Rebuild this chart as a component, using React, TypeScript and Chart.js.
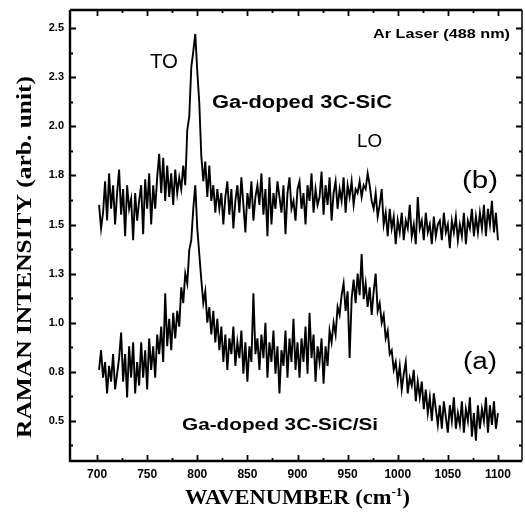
import React, { useEffect, useRef } from "react";
import { Chart, registerables } from "chart.js";

Chart.register(...registerables);

// Raman shift sampling grid (cm-1)
const wavenumbers: number[] = Array.from({ length: 200 }, (_, i) => 702 + 2 * i);

// (b) Ga-doped 3C-SiC
const seriesB: number[] = [
  1.60, 1.48, 1.56, 1.72, 1.52, 1.76, 1.58, 1.70, 1.50, 1.66,
  1.78, 1.55, 1.68, 1.44, 1.70, 1.58, 1.63, 1.42, 1.66, 1.52,
  1.62, 1.70, 1.45, 1.73, 1.58, 1.76, 1.50, 1.70, 1.58, 1.74,
  1.86, 1.66, 1.84, 1.62, 1.80, 1.64, 1.76, 1.60, 1.78, 1.66,
  1.74, 1.68, 1.80, 1.70, 1.98, 2.05, 2.30, 2.38, 2.47, 2.28,
  2.12, 1.85, 1.72, 1.82, 1.64, 1.80, 1.62, 1.70, 1.56, 1.68,
  1.58, 1.66, 1.50, 1.64, 1.72, 1.55, 1.68, 1.48, 1.62, 1.70,
  1.56, 1.74, 1.60, 1.46, 1.66, 1.58, 1.72, 1.52, 1.64, 1.70,
  1.60, 1.76, 1.55, 1.68, 1.44, 1.74, 1.50, 1.66, 1.58, 1.72,
  1.64, 1.56, 1.70, 1.45, 1.66, 1.74, 1.58, 1.62, 1.52, 1.68,
  1.72, 1.58, 1.66, 1.50, 1.70, 1.62, 1.76, 1.56, 1.68, 1.60,
  1.64, 1.77, 1.55, 1.70, 1.60, 1.74, 1.52, 1.66, 1.72, 1.58,
  1.68, 1.62, 1.74, 1.56, 1.70, 1.64, 1.72, 1.60, 1.68, 1.66,
  1.72, 1.64, 1.70, 1.68, 1.76, 1.70, 1.62, 1.58, 1.66, 1.54,
  1.60, 1.68, 1.50, 1.56, 1.44, 1.58, 1.48, 1.54, 1.40, 1.52,
  1.46, 1.56, 1.42, 1.52, 1.48, 1.60, 1.44, 1.50, 1.40, 1.64,
  1.48, 1.52, 1.42, 1.56, 1.46, 1.50, 1.40, 1.54, 1.44, 1.50,
  1.52, 1.42, 1.56, 1.46, 1.50, 1.38, 1.52, 1.46, 1.54, 1.42,
  1.50, 1.44, 1.56, 1.40, 1.52, 1.48, 1.58, 1.44, 1.54, 1.46,
  1.56, 1.48, 1.60, 1.44, 1.58, 1.50, 1.62, 1.46, 1.56, 1.42,
];

// (a) Ga-doped 3C-SiC/Si
const seriesA: number[] = [
  0.76, 0.86, 0.72, 0.80, 0.64, 0.78, 0.70, 0.84, 0.66, 0.74,
  0.82, 0.95, 0.70, 0.84, 0.62, 0.88, 0.72, 0.90, 0.64, 0.80,
  0.68, 0.90, 0.72, 0.86, 0.66, 0.92, 0.76, 0.88, 0.72, 0.94,
  0.84, 0.98, 0.80, 1.15, 0.88, 1.02, 0.86, 1.05, 0.92, 1.06,
  0.98, 1.18, 1.10, 1.25, 1.20, 1.37, 1.42, 1.58, 1.70, 1.48,
  1.35, 1.22, 1.10, 1.16, 1.00, 1.08, 0.94, 1.06, 0.90, 1.02,
  0.86, 0.98, 0.80, 0.94, 0.76, 0.92, 0.84, 0.98, 0.78, 0.90,
  0.82, 0.96, 0.74, 0.90, 0.70, 0.88, 0.80, 1.15, 0.84, 0.92,
  0.76, 0.94, 0.82, 1.00, 0.72, 0.90, 0.80, 0.96, 0.74, 0.88,
  0.64, 0.86, 0.78, 0.96, 0.72, 0.92, 0.80, 1.02, 0.76, 0.90,
  0.72, 0.92, 0.80, 0.98, 0.74, 1.05, 0.82, 0.94, 0.70, 0.88,
  0.80, 0.92, 0.69, 0.88, 0.78, 0.96, 0.90, 1.00, 0.94, 1.08,
  1.04, 1.14, 1.20, 1.06, 1.16, 0.82, 1.12, 1.22, 1.10, 1.25,
  1.14, 1.35, 1.12, 1.20, 1.08, 1.18, 1.04, 1.16, 1.25, 1.06,
  1.10, 1.00, 1.04, 0.92, 0.96, 0.84, 0.86, 0.76, 0.80, 0.70,
  0.78, 0.66, 0.74, 0.80, 0.64, 0.72, 0.68, 0.76, 0.60, 0.70,
  0.62, 0.70, 0.56, 0.66, 0.54, 0.62, 0.50, 0.64, 0.56, 0.48,
  0.58, 0.46, 0.60, 0.52, 0.44, 0.58, 0.50, 0.62, 0.46, 0.54,
  0.48, 0.60, 0.44, 0.56, 0.50, 0.62, 0.42, 0.54, 0.40, 0.58,
  0.46, 0.56, 0.50, 0.62, 0.44, 0.58, 0.48, 0.60, 0.46, 0.54,
];

const xTickValues: number[] = [700, 750, 800, 850, 900, 950, 1000, 1050, 1100];
const yTickValues: number[] = [0.5, 0.75, 1.0, 1.25, 1.5, 1.75, 2.0, 2.25, 2.5];
const yTickLabels: string[] = ["0.5", "0.8", "1.0", "1.3", "1.5", "1.8", "2.0", "2.3", "2.5"];

const SANS = "'Liberation Sans', Arial, Helvetica, sans-serif";
const SERIF = "'Liberation Serif', 'Times New Roman', Times, serif";

function fitText(
  ctx: CanvasRenderingContext2D,
  text: string,
  left: number,
  baseline: number,
  font: string,
  width: number
) {
  ctx.font = font;
  const w = ctx.measureText(text).width;
  ctx.save();
  ctx.translate(left, baseline);
  ctx.scale(width / w, 1);
  ctx.textAlign = "left";
  ctx.textBaseline = "alphabetic";
  ctx.fillText(text, 0, 0);
  ctx.restore();
}

const decorPlugin = {
  id: "decor",
  afterDatasetsDraw(chart: any) {
    const ctx: CanvasRenderingContext2D = chart.ctx;
    const { left, right, top, bottom } = chart.chartArea;
    const xs = chart.scales.x;
    const ys = chart.scales.y;
    ctx.save();
    ctx.strokeStyle = "#000";
    ctx.fillStyle = "#000";

    // frame
    ctx.lineWidth = 2.4;
    ctx.beginPath();
    ctx.moveTo(left, top);
    ctx.lineTo(left, bottom);
    ctx.lineTo(right, bottom);
    ctx.moveTo(left, top);
    ctx.lineTo(right, top);
    ctx.stroke();
    ctx.lineWidth = 1.5;
    ctx.beginPath();
    ctx.moveTo(right, top);
    ctx.lineTo(right, bottom);
    ctx.stroke();

    // x ticks (major 50, minor 25), inward on bottom and top
    ctx.lineWidth = 1.8;
    for (let v = 700; v <= 1100; v += 25) {
      const px = Math.round(xs.getPixelForValue(v)) + 0.5;
      const len = v % 50 === 0 ? 6 : 3;
      ctx.beginPath();
      ctx.moveTo(px, bottom);
      ctx.lineTo(px, bottom - len);
      ctx.moveTo(px, top);
      ctx.lineTo(px, top + len);
      ctx.stroke();
    }
    // y ticks (major 0.25, minor 0.125), inward on left and right
    for (let k = 3; k <= 20; k++) {
      const v = k * 0.125;
      const py = Math.round(ys.getPixelForValue(v)) + 0.5;
      const len = k % 2 === 0 ? 6 : 3;
      ctx.beginPath();
      ctx.moveTo(left, py);
      ctx.lineTo(left + len, py);
      ctx.moveTo(right, py);
      ctx.lineTo(right - len, py);
      ctx.stroke();
    }

    // tick labels
    ctx.font = `bold 12px ${SANS}`;
    ctx.textAlign = "center";
    ctx.textBaseline = "middle";
    xTickValues.forEach((v) => {
      ctx.fillText(String(v), xs.getPixelForValue(v), 475);
    });
    ctx.font = `bold 11px ${SANS}`;
    ctx.textAlign = "right";
    yTickValues.forEach((v, i) => {
      ctx.fillText(yTickLabels[i], 64, ys.getPixelForValue(v));
    });

    // annotations
    fitText(ctx, "TO", 150, 68, `400 20px ${SANS}`, 28);
    fitText(ctx, "Ga-doped 3C-SiC", 212, 108, `bold 18px ${SANS}`, 180);
    fitText(ctx, "LO", 357, 147, `400 19px ${SANS}`, 25);
    fitText(ctx, "(b)", 462, 188, `400 23px ${SANS}`, 36);
    fitText(ctx, "Ar Laser (488 nm)", 373, 38, `bold 13px ${SANS}`, 137);
    fitText(ctx, "(a)", 463, 369, `400 23px ${SANS}`, 34);
    fitText(ctx, "Ga-doped 3C-SiC/Si", 182, 430, `bold 17px ${SANS}`, 196);

    // x axis title with superscript
    {
      const p1 = "WAVENUMBER (cm";
      const p2 = "-1";
      const p3 = ")";
      const f1 = `bold 22px ${SERIF}`;
      const f2 = `bold 13px ${SERIF}`;
      ctx.font = f1;
      const w1 = ctx.measureText(p1).width;
      const w3 = ctx.measureText(p3).width;
      ctx.font = f2;
      const w2 = ctx.measureText(p2).width;
      const s = 225 / (w1 + w2 + w3);
      ctx.save();
      ctx.translate(185, 504);
      ctx.scale(s, 1);
      ctx.textAlign = "left";
      ctx.textBaseline = "alphabetic";
      ctx.font = f1;
      ctx.fillText(p1, 0, 0);
      ctx.font = f2;
      ctx.fillText(p2, w1, -8);
      ctx.font = f1;
      ctx.fillText(p3, w1 + w2, 0);
      ctx.restore();
    }

    // y axis title, rotated
    {
      const t = "RAMAN INTENSITY (arb. unit)";
      ctx.font = `bold 22px ${SERIF}`;
      const w = ctx.measureText(t).width;
      ctx.save();
      ctx.translate(31, 438);
      ctx.rotate(-Math.PI / 2);
      ctx.scale(362 / w, 1);
      ctx.textAlign = "left";
      ctx.textBaseline = "alphabetic";
      ctx.fillText(t, 0, 0);
      ctx.restore();
    }
    ctx.restore();
  },
};

export default function App() {
  const canvasRef = useRef<HTMLCanvasElement | null>(null);

  useEffect(() => {
    const canvas = canvasRef.current;
    if (!canvas) return;
    const chart = new Chart(canvas, {
      type: "line",
      data: {
        datasets: [
          {
            label: "(b) Ga-doped 3C-SiC",
            data: wavenumbers.map((w, i) => ({ x: w, y: seriesB[i] })),
            borderColor: "#000",
            borderWidth: 1.9,
            pointRadius: 0,
            tension: 0,
            fill: false,
          },
          {
            label: "(a) Ga-doped 3C-SiC/Si",
            data: wavenumbers.map((w, i) => ({ x: w, y: seriesA[i] })),
            borderColor: "#000",
            borderWidth: 1.9,
            pointRadius: 0,
            tension: 0,
            fill: false,
          },
        ],
      },
      options: {
        responsive: false,
        animation: false,
        devicePixelRatio: 1,
        layout: { padding: { left: 70, right: 3, top: 10, bottom: 52 } },
        plugins: {
          legend: { display: false },
          tooltip: { enabled: false },
          title: { display: false },
        },
        scales: {
          x: { type: "linear", min: 673, max: 1124, display: false },
          y: { type: "linear", min: 0.296, max: 2.592, display: false },
        },
      },
      plugins: [decorPlugin],
    });
    return () => chart.destroy();
  }, []);

  return (
    <div style={{ position: "absolute", left: 0, top: 0, width: 525, height: 513, background: "#fff" }}>
      <canvas ref={canvasRef} width={525} height={513} style={{ display: "block" }} />
    </div>
  );
}
